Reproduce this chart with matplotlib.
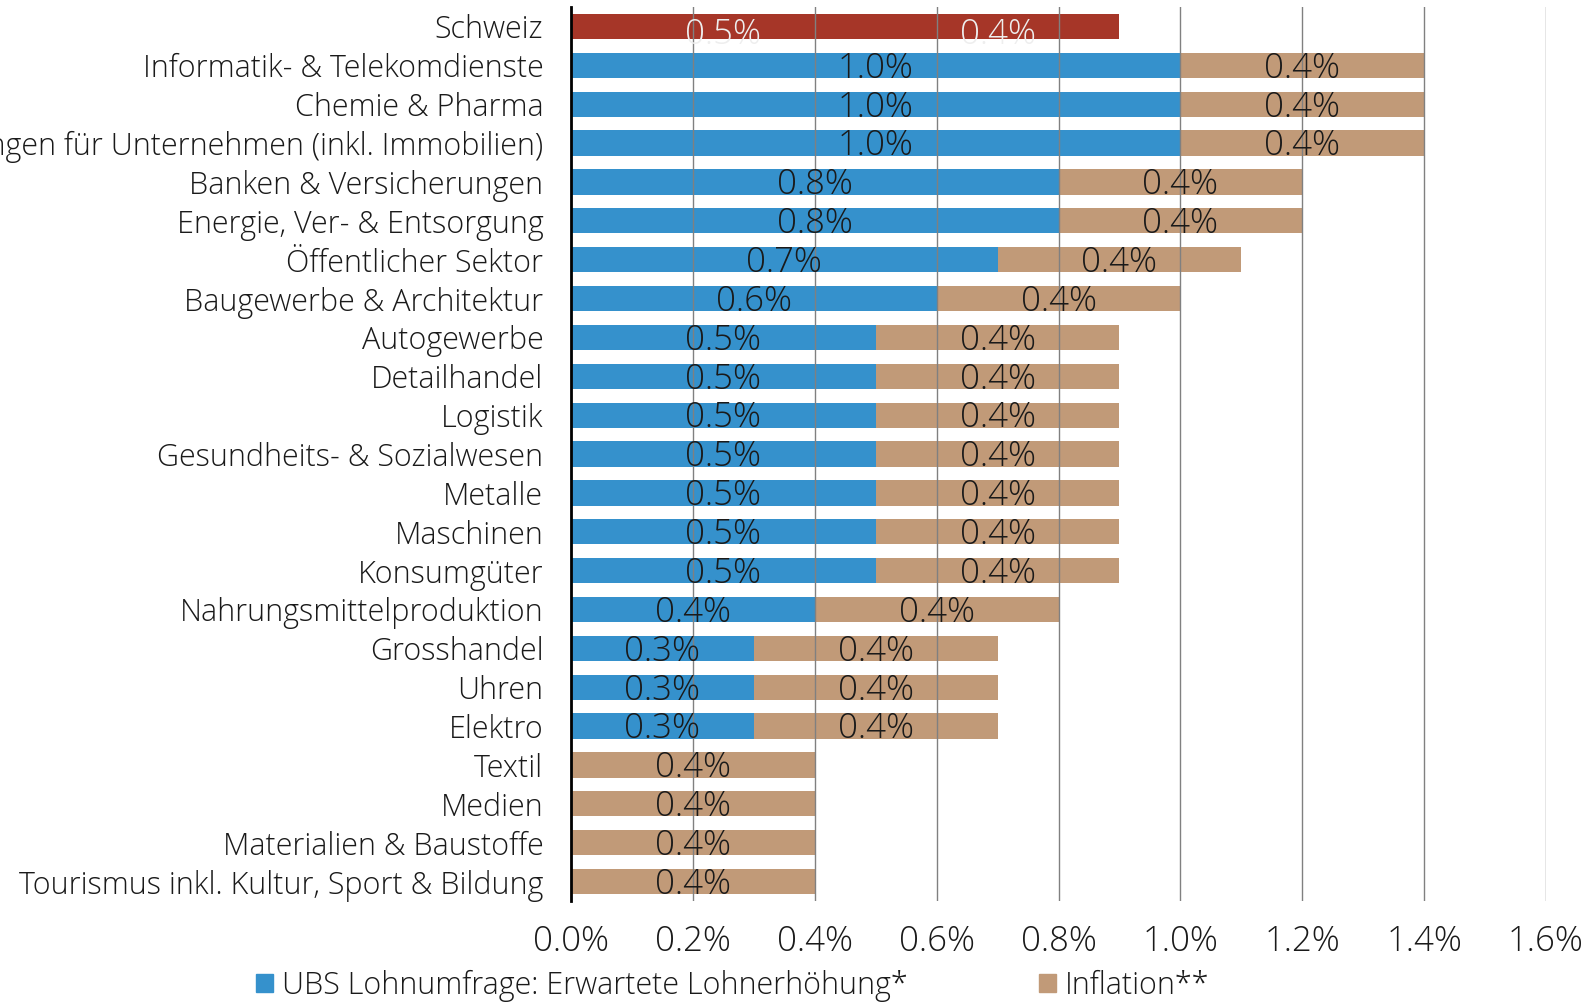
import matplotlib
matplotlib.use("Agg")
import matplotlib.pyplot as plt
from matplotlib.patches import Patch
from matplotlib.ticker import FuncFormatter

plt.rcParams['font.family'] = ['Open Sans', 'DejaVu Sans']
plt.rcParams['font.weight'] = 'light'

# Branchen (von oben nach unten)
branchen = ["Schweiz", "Informatik- & Telekomdienste", "Chemie & Pharma",
            "Dienstleistungen für Unternehmen (inkl. Immobilien)",
            "Banken & Versicherungen", "Energie, Ver- & Entsorgung",
            "Öffentlicher Sektor", "Baugewerbe & Architektur", "Autogewerbe",
            "Detailhandel", "Logistik", "Gesundheits- & Sozialwesen", "Metalle",
            "Maschinen", "Konsumgüter", "Nahrungsmittelproduktion",
            "Grosshandel", "Uhren", "Elektro", "Textil", "Medien",
            "Materialien & Baustoffe", "Tourismus inkl. Kultur, Sport & Bildung"]
lohn = [0.5, 1.0, 1.0, 1.0, 0.8, 0.8, 0.7, 0.6, 0.5, 0.5, 0.5, 0.5, 0.5,
        0.5, 0.5, 0.4, 0.3, 0.3, 0.3, 0.0, 0.0, 0.0, 0.0]
inflation = [0.4] * len(branchen)
xticks = [0.0, 0.2, 0.4, 0.6, 0.8, 1.0, 1.2, 1.4, 1.6]

blau = "#3591cc"
braun = "#c19a78"
rot = "#a63628"
fs = 22
fs_num = 25

fig = plt.figure(figsize=(15.93, 10.02), dpi=100)
ax = fig.add_axes([0.3585, 0.1008, 0.612, 0.8922])

y = list(range(len(branchen)))
c1 = [rot if b == "Schweiz" else blau for b in branchen]
c2 = [rot if b == "Schweiz" else braun for b in branchen]
bars1 = ax.barh(y, lohn, height=0.65, color=c1, zorder=1)
bars2 = ax.barh(y, inflation, left=lohn, height=0.65, color=c2, zorder=1)

# Beschriftungen
for i, b in enumerate(branchen):
    tc = "#eeeeee" if b == "Schweiz" else "#1a1a1a"
    for bar, start, val in [(bars1[i], 0, lohn[i]), (bars2[i], lohn[i], inflation[i])]:
        if val <= 0:
            continue
        dy = 0.22 if b == "Schweiz" else 0.08
        t = ax.text(start + val / 2, i + dy, f"{val:.1f}%", ha="center", va="center",
                    fontsize=fs_num, color=tc, zorder=3)
        if b == "Schweiz":
            t.set_clip_path(bar)

ax.set_ylim(len(branchen) - 0.5, -0.5)
ax.set_xlim(0, 1.6)
ax.set_yticks(y)
ax.set_yticklabels(branchen, fontsize=fs, color="#1a1a1a")
ax.set_xticks(xticks)
ax.xaxis.set_major_formatter(FuncFormatter(lambda v, p: f"{v:.1f}%"))
ax.tick_params(axis="x", length=0, labelsize=fs_num, pad=17, colors="#1a1a1a")
ax.tick_params(axis="y", length=0, pad=20)
ax.grid(axis="x", color="#808080", linewidth=1.0, zorder=2)
ax.set_axisbelow(False)
for s in ["top", "right", "bottom"]:
    ax.spines[s].set_visible(False)
ax.spines["left"].set_linewidth(2)
ax.spines["left"].set_color("black")
ax.spines["left"].set_zorder(4)

handles = [Patch(color=blau, label="UBS Lohnumfrage: Erwartete Lohnerhöhung*"),
           Patch(color=braun, label="Inflation**")]
fig.legend(handles=handles, loc="center left", bbox_to_anchor=(0.1434, 0.016),
           ncol=2, frameon=False, fontsize=fs, handlelength=0.55, handleheight=0.55,
           handletextpad=0.3, columnspacing=4.3, labelcolor="#1a1a1a")

fig.savefig("out.png", dpi=100)
